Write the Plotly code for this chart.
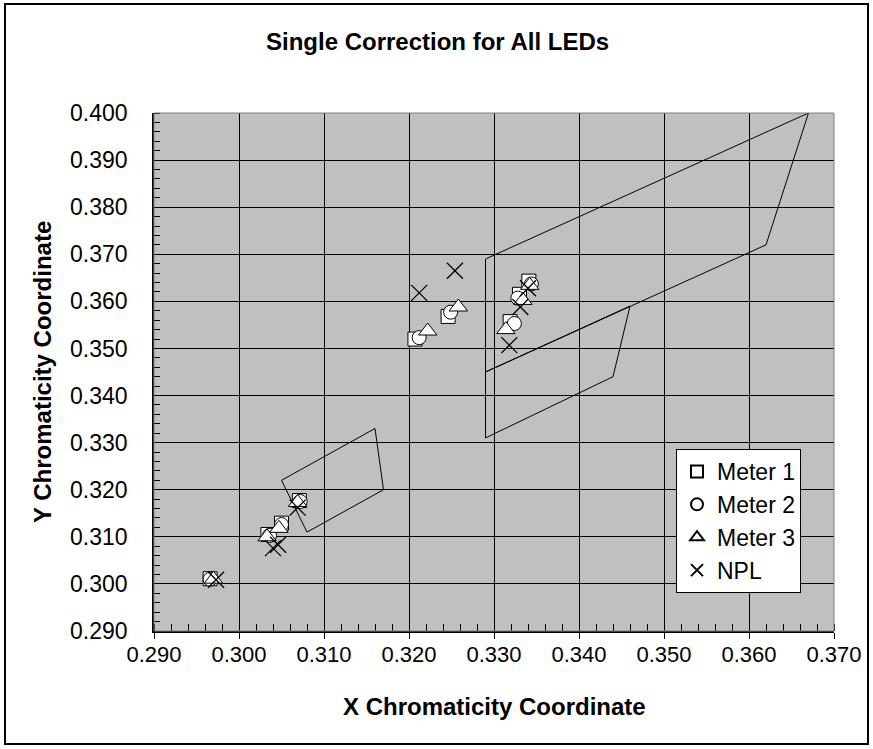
import plotly.graph_objects as go

# ---- data ----
m1_x = [0.2966, 0.3034, 0.3050, 0.3071, 0.3207, 0.3246, 0.3319, 0.3330, 0.3341]
m1_y = [0.3011, 0.3105, 0.3129, 0.3177, 0.3520, 0.3568, 0.3557, 0.3615, 0.3643]
m2_x = [0.2966, 0.3036, 0.3050, 0.3072, 0.3212, 0.3249, 0.3324, 0.3328, 0.3344]
m2_y = [0.3010, 0.3103, 0.3126, 0.3175, 0.3523, 0.3577, 0.3553, 0.3607, 0.3637]
m3_x = [0.2970, 0.3033, 0.3047, 0.3069, 0.3222, 0.3258, 0.3314, 0.3334, 0.3342]
m3_y = [0.3010, 0.3100, 0.3118, 0.3173, 0.3537, 0.3588, 0.3540, 0.3602, 0.3634]
npl_x = [0.2973, 0.3040, 0.3046, 0.3069, 0.3212, 0.3254, 0.3318, 0.3331, 0.3340]
npl_y = [0.3009, 0.3076, 0.3083, 0.3162, 0.3618, 0.3665, 0.3507, 0.3588, 0.3628]

polyA_x = [0.329, 0.367, 0.362, 0.329, 0.329]
polyA_y = [0.369, 0.400, 0.372, 0.345, 0.369]
polyB_x = [0.329, 0.346, 0.344, 0.329, 0.329]
polyB_y = [0.345, 0.359, 0.344, 0.331, 0.345]
polyC_x = [0.305, 0.316, 0.317, 0.308, 0.305]
polyC_y = [0.322, 0.333, 0.320, 0.311, 0.322]

x_ticks = [0.29, 0.30, 0.31, 0.32, 0.33, 0.34, 0.35, 0.36, 0.37]
y_ticks = [0.29, 0.30, 0.31, 0.32, 0.33, 0.34, 0.35, 0.36, 0.37, 0.38, 0.39, 0.40]

FONT = "Liberation Sans, Arial, sans-serif"
W, H = 873, 749
L, R, T, B = 154, 39, 113, 118
PW, PH = W - L - R, H - T - B


def px2x(p):
    return (p - L) / PW


def py2y(p):
    return (H - B - p) / PH


fig = go.Figure()

for px_, py_ in [(polyA_x, polyA_y), (polyB_x, polyB_y), (polyC_x, polyC_y)]:
    fig.add_trace(go.Scatter(x=px_, y=py_, mode="lines",
                             line=dict(color="black", width=1),
                             showlegend=False, hoverinfo="skip"))

fig.add_trace(go.Scatter(x=m1_x, y=m1_y, mode="markers", name="Meter 1",
                         marker=dict(symbol="square", size=14, color="white",
                                     line=dict(color="black", width=1))))
fig.add_trace(go.Scatter(x=m2_x, y=m2_y, mode="markers", name="Meter 2",
                         marker=dict(symbol="circle", size=14, color="white",
                                     line=dict(color="black", width=1))))
fig.add_trace(go.Scatter(x=m3_x, y=m3_y, mode="markers", name="Meter 3",
                         marker=dict(symbol="triangle-up", size=16, color="white",
                                     line=dict(color="black", width=1))))
fig.add_trace(go.Scatter(x=npl_x, y=npl_y, mode="markers", name="NPL",
                         marker=dict(symbol="x-thin", size=16, color="black",
                                     line=dict(color="black", width=1.3))))

fig.update_layout(
    width=W, height=H, autosize=False,
    margin=dict(l=L, r=R, t=T, b=B, pad=0),
    paper_bgcolor="white", plot_bgcolor="#C0C0C0",
    font=dict(family=FONT, color="black", size=22),
    showlegend=True,
    legend=dict(x=px2x(676), y=py2y(449), xanchor="left", yanchor="top",
                bgcolor="white", bordercolor="black", borderwidth=1,
                font=dict(size=23, family=FONT), tracegroupgap=0,
                itemsizing="constant"),
)

fig.update_xaxes(range=[0.29, 0.37], tickvals=x_ticks,
                 ticktext=[f"{v:.3f}" for v in x_ticks],
                 showgrid=True, gridcolor="black", gridwidth=1,
                 zeroline=False, showline=True, linecolor="black", linewidth=1.5,
                 ticks="outside", ticklen=6, tickcolor="black", tickwidth=1,
                 ticklabelstandoff=-3,
                 minor=dict(dtick=0.002, tick0=0.29, ticks="inside", ticklen=7,
                            tickcolor="black", showgrid=False),
                 tickfont=dict(size=22, family=FONT))
fig.update_yaxes(range=[0.29, 0.40], tickvals=y_ticks,
                 ticktext=[f"{v:.3f}" for v in y_ticks],
                 showgrid=True, gridcolor="black", gridwidth=1,
                 zeroline=False, showline=True, linecolor="black", linewidth=1.5,
                 ticks="", ticklabelstandoff=20,
                 minor=dict(dtick=0.002, tick0=0.29, ticks="inside", ticklen=6,
                            tickcolor="black", showgrid=False),
                 tickfont=dict(size=23, family=FONT))

# plot-area grey frame (top/right) and outer chart border
fig.add_shape(type="rect", xref="paper", yref="paper", x0=0, x1=1, y0=0, y1=1,
              line=dict(color="#808080", width=1))
fig.add_shape(type="rect", xref="paper", yref="paper",
              x0=px2x(5), x1=px2x(868), y0=py2y(744), y1=py2y(4),
              line=dict(color="black", width=2))

fig.add_annotation(text="<b>Single Correction for All LEDs</b>", xref="paper", yref="paper",
                   x=px2x(437), y=py2y(42), xanchor="center", yanchor="middle",
                   showarrow=False, font=dict(size=24, family=FONT))
fig.add_annotation(text="<b>X Chromaticity Coordinate</b>", xref="paper", yref="paper",
                   x=0.5, y=py2y(706), xanchor="center", yanchor="middle",
                   showarrow=False, font=dict(size=24, family=FONT))
fig.add_annotation(text="<b>Y Chromaticity Coordinate</b>", xref="paper", yref="paper",
                   x=px2x(42), y=0.5, xanchor="center", yanchor="middle", textangle=-90,
                   showarrow=False, font=dict(size=24, family=FONT))

fig.write_html(
    "out.html",
    config={"displayModeBar": False},
    post_script="document.body.style.margin='0';document.body.style.overflow='hidden';",
)
